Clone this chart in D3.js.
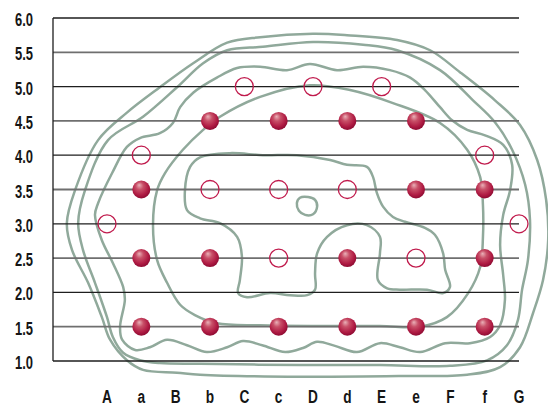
<!DOCTYPE html>
<html><head><meta charset="utf-8">
<script src="https://cdn.jsdelivr.net/npm/d3@7"></script>
<style>
html,body{margin:0;padding:0;background:#fff;}
text{font-family:"Liberation Sans","Arial",sans-serif;font-weight:bold;fill:#151515;}
</style></head>
<body><svg id="c" width="548" height="407"></svg>
<script>
// ---- data ----
const categories = ["A","a","B","b","C","c","D","d","E","e","F","f","G"];
const yTicks = [1.0,1.5,2.0,2.5,3.0,3.5,4.0,4.5,5.0,5.5,6.0];
// filled points: [category, value]
const filledPoints = [
  ["b",4.5],["c",4.5],["d",4.5],["e",4.5],
  ["a",3.5],["e",3.5],["f",3.5],
  ["a",2.5],["b",2.5],["d",2.5],["f",2.5],
  ["a",1.5],["b",1.5],["c",1.5],["d",1.5],["e",1.5],["f",1.5]
];
const hollowPoints = [
  ["C",5.0],["D",5.0],["E",5.0],
  ["a",4.0],["f",4.0],
  ["b",3.5],["c",3.5],["d",3.5],
  ["A",3.0],["G",3.0],
  ["c",2.5],["e",2.5]
];
// contour lines: [category index, value]
const contour1 = [[4.46,5.72],[6.00,5.77],[6.99,5.75],[8.45,5.68],[9.41,5.53],[10.28,5.21],[11.30,4.80],[12.03,4.44],[12.53,3.93],[12.79,3.35],[12.85,2.76],[12.70,2.18],[12.41,1.70],[12.03,1.20],[11.45,0.91],[10.49,0.80],[8.53,0.78],[5.62,0.77],[2.71,0.80],[2.04,0.83],[1.05,0.87],[0.58,1.01],[0.09,1.31],[-0.15,1.64],[-0.55,2.14],[-1.02,2.62],[-1.17,3.01],[-0.93,3.49],[-0.26,4.22],[0.58,4.62],[1.54,4.99],[2.51,5.34],[3.50,5.64]];
const contour2 = [[3.50,5.53],[4.54,5.58],[6.00,5.65],[7.46,5.61],[8.45,5.53],[9.70,5.24],[10.66,4.80],[11.30,4.48],[11.80,4.08],[12.18,3.57],[12.32,3.06],[12.26,2.47],[12.09,2.04],[11.97,1.60],[11.65,1.23],[11.07,1.01],[9.99,0.93],[7.95,0.94],[5.62,0.94],[2.71,0.96],[1.54,0.97],[0.96,1.01],[0.47,1.12],[0.17,1.35],[0.00,1.64],[-0.35,2.14],[-0.70,2.62],[-0.84,3.01],[-0.64,3.49],[0.03,4.22],[1.05,4.56],[2.04,4.99],[2.80,5.34]];
const contour3 = [[3.20,5.13],[3.79,5.27],[4.46,5.29],[5.24,5.24],[5.91,5.33],[6.70,5.24],[7.46,5.29],[8.24,5.24],[8.83,5.13],[9.26,4.95],[9.70,4.70],[10.05,4.51],[10.49,4.37],[11.01,4.29],[11.54,4.15],[11.80,3.86],[11.74,3.49],[11.54,3.13],[11.45,2.69],[11.54,2.25],[11.59,1.89],[11.45,1.52],[11.16,1.35],[10.57,1.26],[9.85,1.26],[9.12,1.13],[8.53,1.20],[7.95,1.26],[7.28,1.13],[6.64,1.22],[6.12,1.28],[5.71,1.19],[5.19,1.13],[4.52,1.23],[3.96,1.29],[3.50,1.20],[2.91,1.13],[2.33,1.23],[1.75,1.31],[1.25,1.20],[0.82,1.16],[0.44,1.31],[0.38,1.50],[0.52,1.89],[0.47,2.08],[0.17,2.43],[-0.15,2.76],[-0.35,3.13],[-0.26,3.30],[0.15,3.74],[0.58,4.12],[0.96,4.25],[1.54,4.32],[1.92,4.47],[2.13,4.70],[2.51,4.91]];
const contour4 = [[5.91,5.02],[7.08,4.95],[8.33,4.76],[9.70,4.47],[10.49,4.08],[10.87,3.68],[10.95,3.27],[10.95,2.81],[10.87,2.37],[10.52,1.99],[9.90,1.64],[9.12,1.50],[7.95,1.51],[6.20,1.51],[4.46,1.52],[3.20,1.55],[2.56,1.67],[2.13,1.82],[1.75,2.14],[1.46,2.47],[1.34,2.98],[1.46,3.49],[1.69,3.74],[2.21,4.08],[2.80,4.37],[3.29,4.56],[4.46,4.85]];
const contour5 = [[2.42,3.83],[2.71,3.97],[3.58,4.03],[4.54,4.00],[5.53,4.00],[6.50,3.93],[6.99,3.86],[7.57,3.83],[7.75,3.68],[7.86,3.45],[8.04,3.25],[8.33,3.10],[8.68,3.03],[9.26,2.94],[9.55,2.84],[9.79,2.57],[9.85,2.33],[9.99,2.08],[9.79,1.99],[9.32,2.04],[8.53,2.04],[8.16,2.06],[7.89,2.18],[7.95,2.57],[7.95,2.81],[7.57,2.98],[6.99,2.98],[6.41,2.81],[6.12,2.57],[6.06,2.28],[6.06,2.04],[5.83,1.96],[5.33,1.96],[4.75,1.99],[4.08,1.93],[3.82,1.99],[3.87,2.18],[3.93,2.52],[3.79,2.81],[3.29,3.01],[2.71,3.08],[2.33,3.20],[2.27,3.49]];
const contour6 = [[5.53,3.30],[5.62,3.38],[5.86,3.39],[6.06,3.35],[6.12,3.25],[6.00,3.14],[5.77,3.13],[5.59,3.19]];
const contours = [contour1, contour2, contour3, contour4, contour5, contour6];

// ---- chart ----
const svg = d3.select("#c");
const x = d3.scalePoint().domain(categories).range([107, 519]);
const xi = d3.scaleLinear().domain([0, categories.length - 1]).range([107, 519]);
const y = d3.scaleLinear().domain([1, 6]).range([361, 18]);

const defs = svg.append("defs");
const g = defs.append("radialGradient").attr("id","ball")
  .attr("cx","45%").attr("cy","40%").attr("r","60%").attr("fx","38%").attr("fy","25%");
g.append("stop").attr("offset","0%").attr("stop-color","#eab1b8");
g.append("stop").attr("offset","35%").attr("stop-color","#c85068");
g.append("stop").attr("offset","75%").attr("stop-color","#b01c44");
g.append("stop").attr("offset","100%").attr("stop-color","#8e0b32");

// contours
const line = d3.line().x(d => xi(d[0])).y(d => y(d[1])).curve(d3.curveCatmullRomClosed.alpha(0.5));
svg.append("g").selectAll("path").data(contours).join("path")
  .attr("d", line).attr("fill","none").attr("stroke","#90a99b").attr("stroke-width",2.5);

// gridlines
svg.append("g").selectAll("line").data(yTicks).join("line")
  .attr("x1", 53).attr("x2", x("G"))
  .attr("y1", d => y(d)).attr("y2", d => y(d))
  .attr("stroke", d => Math.abs(d % 1) < 1e-9 ? "#1e1e1e" : "#6f6f6f")
  .attr("stroke-width", d => Math.abs(d % 1) < 1e-9 ? 1.3 : 1.8);
svg.append("line").attr("x1",53).attr("x2",53).attr("y1",y(6)).attr("y2",y(1))
  .attr("stroke","#1e1e1e").attr("stroke-width",1.3);

// y labels (condensed look via horizontal scale)
svg.append("g").selectAll("text").data(yTicks).join("text")
  .attr("transform", d => `translate(33,${y(d) + 8}) scale(0.72,1)`)
  .attr("text-anchor","end")
  .attr("font-size", 18).text(d => d.toFixed(1));
// x labels
svg.append("g").selectAll("text").data(categories).join("text")
  .attr("transform", d => `translate(${x(d)},403) scale(0.72,1)`)
  .attr("text-anchor","middle")
  .attr("font-size", 19).text(d => d);

// hollow points
svg.append("g").selectAll("circle").data(hollowPoints).join("circle")
  .attr("cx", d => x(d[0])).attr("cy", d => y(d[1])).attr("r", 9)
  .attr("fill","none").attr("stroke","#c01a4c").attr("stroke-width",1.3);
// filled points
svg.append("g").selectAll("circle").data(filledPoints).join("circle")
  .attr("cx", d => x(d[0])).attr("cy", d => y(d[1])).attr("r", 9)
  .attr("fill","url(#ball)");
</script></body></html>
